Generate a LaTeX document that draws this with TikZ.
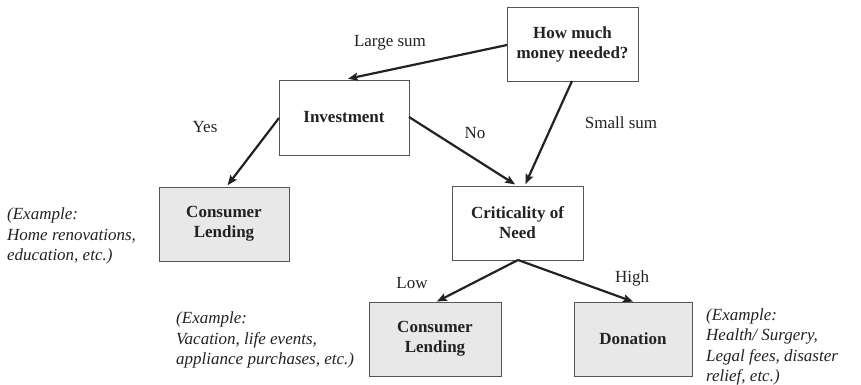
\documentclass[tikz,border=0pt]{standalone}
\usepackage{fontspec}
\setmainfont{Liberation Serif}
\usetikzlibrary{arrows.meta}
\definecolor{boxgray}{HTML}{E8E8E8}
\definecolor{ink}{HTML}{222222}
\definecolor{edge}{HTML}{555555}
\tikzset{
  box/.style={draw=edge, line width=0.9pt, rectangle, align=center, font=\fontsize{17}{20}\selectfont\bfseries, text=ink, inner sep=0pt},
  shaded/.style={box, fill=boxgray},
  conn/.style={draw=ink, line width=2.2pt, -{Stealth[length=10pt,width=8pt,inset=2pt]}, shorten >=1pt},
  lbl/.style={font=\fontsize{17}{20}\selectfont, text=ink, inner sep=0pt},
  note/.style={font=\fontsize{17}{20.5}\selectfont\itshape, text=ink, align=left, inner sep=0pt, anchor=west}
}
\begin{document}
\begin{tikzpicture}[x=1pt,y=-1pt]
\useasboundingbox (0,0) rectangle (861,385);
\node[box, minimum width=131pt, minimum height=74pt] (how) at (572.5,44) {How much\\money needed?};
\node[box, minimum width=130pt, minimum height=75pt] (inv) at (344,117.5) {Investment};
\node[shaded, minimum width=130pt, minimum height=74pt] (cl1) at (224,224) {Consumer\\Lending};
\node[box, minimum width=131pt, minimum height=74pt] (crit) at (517.5,223) {Criticality of\\Need};
\node[shaded, minimum width=132pt, minimum height=74pt] (cl2) at (435,339) {Consumer\\Lending};
\node[shaded, minimum width=118pt, minimum height=74pt] (don) at (633,339) {Donation};

\coordinate (howL) at (507,45);
\coordinate (invT) at (347,79);
\coordinate (howB) at (572,81);
\coordinate (critT1) at (525,185);
\coordinate (invR) at (409,117);
\coordinate (critT2) at (516,185);
\coordinate (invL) at (279,118);
\coordinate (cl1T) at (227,186);
\coordinate (critB) at (518,260);
\coordinate (cl2T) at (436,302);
\coordinate (donT) at (634,302);

\draw[conn] (howL) -- (invT);
\draw[conn] (howB) -- (critT1);
\draw[conn] (invR) -- (critT2);
\draw[conn] (invL) -- (cl1T);
\draw[conn] (critB) -- (cl2T);
\draw[conn] (critB) -- (donT);

\node[lbl] (lLarge) at (390,43) {Large sum};
\node[lbl] (lYes) at (205,127) {Yes};
\node[lbl] (lNo) at (475,133) {No};
\node[lbl] (lSmall) at (621,123) {Small sum};
\node[lbl] (lLow) at (412,283) {Low};
\node[lbl] (lHigh) at (632,278) {High};

\node[note] (n1) at (7,236) {(Example:\\Home renovations,\\education, etc.)};
\node[note] (n2) at (176,340) {(Example:\\Vacation, life events,\\appliance purchases, etc.)};
\node[note] (n3) at (706,347) {(Example:\\Health/ Surgery,\\Legal fees, disaster\\relief, etc.)};
\end{tikzpicture}
\end{document}
